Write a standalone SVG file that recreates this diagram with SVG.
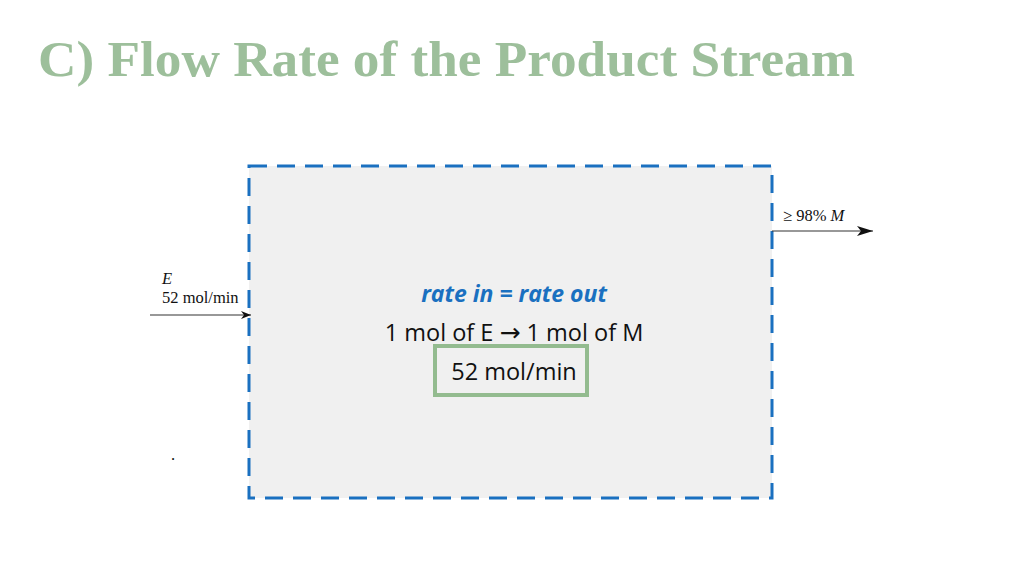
<svg xmlns="http://www.w3.org/2000/svg" width="1024" height="576" viewBox="0 0 1024 576">
<style>
.title{font-family:"Liberation Serif",serif;font-weight:bold;font-size:50px;fill:#9dbf9b}
.lbl{font-family:"Liberation Serif",serif;font-size:16.5px;fill:#111}
.body{font-family:"Open Sans","Liberation Sans",sans-serif;font-size:23.5px;fill:#111}
.rate{font-family:"Open Sans","Liberation Sans",sans-serif;font-size:23px;font-weight:bold;font-style:italic;fill:#1a70c0}
.conn{stroke:#333;stroke-width:1.2;fill:none}
</style>
<defs>
<marker id="ah" viewBox="0 0 10 10" refX="10" refY="5" markerWidth="10" markerHeight="10" markerUnits="userSpaceOnUse" orient="auto">
<path d="M0,1 L10,5 L0,9 L3,5 Z" fill="#111"/>
</marker>
<marker id="ah2" viewBox="0 0 16 10" refX="16" refY="5" markerWidth="16" markerHeight="10" markerUnits="userSpaceOnUse" orient="auto">
<path d="M0,0 L16,5 L0,10 L4,5 Z" fill="#111"/>
</marker>
</defs>
<rect width="1024" height="576" fill="#ffffff"/>
<text class="title" x="38" y="76" textLength="817" lengthAdjust="spacingAndGlyphs">C) Flow Rate of the Product Stream</text>
<g id="process">
<rect x="249" y="166" width="523" height="332" fill="#f0f0f0" stroke="#1a70c0" stroke-width="3" stroke-dasharray="18,10"/>
<text class="rate" x="514" y="302" text-anchor="middle">rate in = rate out</text>
<text class="body" x="514" y="341" text-anchor="middle">1 mol of E <tspan font-family="DejaVu Sans,sans-serif" font-size="25">→</tspan> 1 mol of M</text>
</g>
<g id="result">
<rect x="435" y="346" width="152" height="49" fill="none" stroke="#93bb8f" stroke-width="4"/>
<text class="body" x="514" y="380" text-anchor="middle">52 mol/min</text>
</g>
<g id="connectors">
<line class="conn" x1="150" y1="315" x2="251" y2="315" marker-end="url(#ah)"/>
<line class="conn" x1="772" y1="231" x2="873" y2="231" marker-end="url(#ah2)"/>
</g>
<g id="labels">
<text class="lbl" x="162" y="284" font-style="italic">E</text>
<text class="lbl" x="162" y="303">52 mol/min</text>
<text class="lbl" x="783" y="221">≥ 98% <tspan font-style="italic">M</tspan></text>
<text class="lbl" x="171" y="460" font-size="6">.</text>
</g>
</svg>
